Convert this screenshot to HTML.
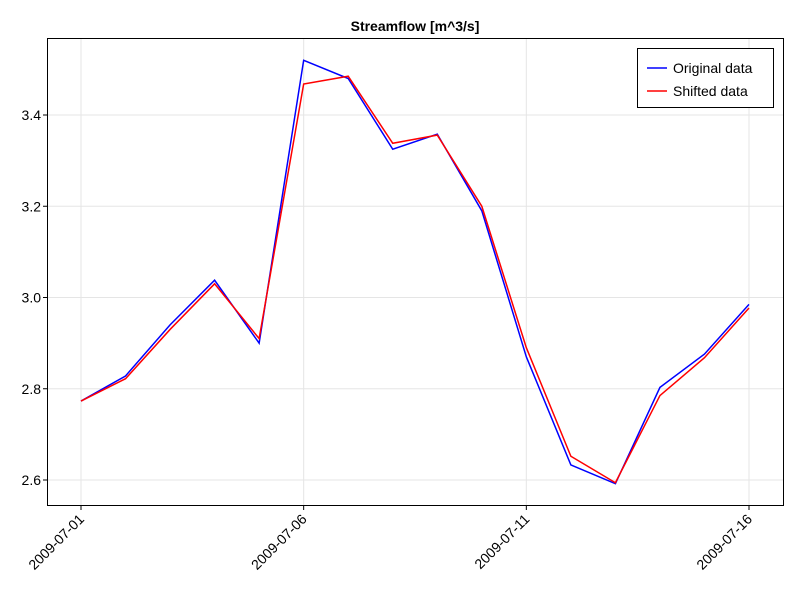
<!DOCTYPE html>
<html><head><meta charset="utf-8"><style>
body{margin:0;background:#fff;}
svg{display:block;font-family:"Liberation Sans",sans-serif;}
</style></head><body>
<svg id="chart" width="800" height="600">
<rect x="0" y="0" width="800" height="600" fill="#fff"/>
<text x="415" y="31" text-anchor="middle" font-size="14" font-weight="bold">Streamflow [m^3/s]</text>
<g id="grid"></g>
<g id="series"></g>
<rect x="47.5" y="38.5" width="736" height="467" fill="none" stroke="#000" stroke-width="1"/>
<g id="axes"></g>
<g>
<rect x="637.5" y="48.5" width="136" height="59" fill="#fff" stroke="#000"/>
<line x1="647" y1="68" x2="667" y2="68" stroke="#0000ff" stroke-width="1.5"/>
<text x="673" y="73" font-size="14">Original data</text>
<line x1="647" y1="91" x2="667" y2="91" stroke="#ff0000" stroke-width="1.5"/>
<text x="673" y="96" font-size="14">Shifted data</text>
</g>
</svg>
<script>
const days = [1,2,3,4,5,6,7,8,9,10,11,12,13,14,15,16];
const original = [2.773,2.828,2.94,3.038,2.900,3.52,3.48,3.325,3.358,3.19,2.87,2.633,2.592,2.803,2.876,2.985];
const shifted = [2.773,2.822,2.93,3.03,2.91,3.468,3.485,3.338,3.356,3.2,2.89,2.652,2.594,2.785,2.868,2.977];
const yTicks = [2.6,2.8,3.0,3.2,3.4];
const xTickDays = [1,6,11,16];
const xTickLabels = ["2009-07-01","2009-07-06","2009-07-11","2009-07-16"];

const NS="http://www.w3.org/2000/svg";
const xs = d => 81 + (d-1)*(668/15);
const ys = v => 480 - (v-2.6)*(365/0.8);
function mk(tag, attrs, parent){const e=document.createElementNS(NS,tag);for(const k in attrs)e.setAttribute(k,attrs[k]);parent.appendChild(e);return e;}
const grid=document.getElementById('grid'), axes=document.getElementById('axes'), series=document.getElementById('series');
yTicks.forEach(t=>{
  const y=ys(t);
  const g=mk('line',{x1:48,x2:783,y1:y,y2:y,stroke:'#e5e5e5','stroke-width':1},grid);
  
  
  const tk=mk('line',{x1:43,x2:47,y1:y,y2:y,stroke:'#000'},axes);
  
  
  const lb=mk('text',{x:41,y:y+5,'text-anchor':'end','font-size':14},axes);
  lb.textContent=t.toFixed(1);
  
  
});
xTickDays.forEach((d,i)=>{
  const x=xs(d);
  const g=mk('line',{x1:x,x2:x,y1:39,y2:505,stroke:'#e5e5e5','stroke-width':1},grid);
  
  
  const tk=mk('line',{x1:x,x2:x,y1:506,y2:510,stroke:'#000'},axes);
  
  
  const lb=mk('text',{x:x+4,y:520,'text-anchor':'end','font-size':14,transform:`rotate(-45 ${x+4} 520)`},axes);
  lb.textContent=xTickLabels[i];
  
  
});
function line(vals,color,name){
  const p=mk('polyline',{points:vals.map((v,i)=>xs(days[i])+','+ys(v)).join(' '),fill:'none',stroke:color,'stroke-width':1.5},series);
  
  
}
line(original,'#0000ff','original-data-line');
line(shifted,'#ff0000','shifted-data-line');
</script>
</body></html>
